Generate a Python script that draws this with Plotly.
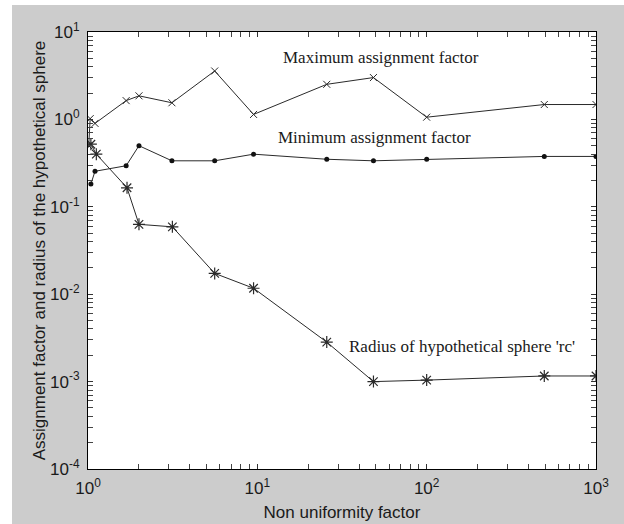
import plotly.graph_objects as go

# ---- data ----
x_max = [1.01, 1.03, 1.1, 1.68, 2.0, 3.13, 5.6, 9.5, 25.7, 48.5, 100, 495, 1000]
y_max = [0.5, 1.02, 0.9, 1.64, 1.86, 1.55, 3.58, 1.14, 2.52, 3.01, 1.06, 1.48, 1.48]

x_min = [1.04, 1.1, 1.68, 2.0, 3.13, 5.6, 9.5, 25.7, 48.5, 100, 495, 1000]
y_min = [0.182, 0.255, 0.295, 0.5, 0.336, 0.336, 0.40, 0.35, 0.336, 0.35, 0.377, 0.377]

x_rc = [1.04, 1.12, 1.7, 2.0, 3.15, 5.6, 9.5, 25.7, 48.5, 100, 495, 1000]
y_rc = [0.52, 0.40, 0.165, 0.063, 0.059, 0.0173, 0.0117, 0.00283, 0.001, 0.00104, 0.00116, 0.00116]

x_tickvals = [1, 10, 100, 1000]
x_ticktext = ["10<sup>0</sup>", "10<sup>1</sup>", "10<sup>2</sup>", "10<sup>3</sup>"]
y_tickvals = [1e-4, 1e-3, 1e-2, 1e-1, 1, 10]
y_ticktext = ["10<sup>-4</sup>", "10<sup>-3</sup>", "10<sup>-2</sup>", "10<sup>-1</sup>", "10<sup>0</sup>", "10<sup>1</sup>"]

labels = ["Maximum assignment factor", "Minimum assignment factor", "Radius of hypothetical sphere 'rc'"]
label_pos = [(1.731, 0.714), (1.692, -0.209), (2.206, -2.601)]  # log10 coordinates

x_title = "Non uniformity factor"
y_title = "Assignment factor and radius of the hypothetical sphere"

# ---- figure ----
LINE = "#2a2a2a"
fig = go.Figure()
fig.add_trace(go.Scatter(x=x_max, y=y_max, mode="lines+markers",
                         line=dict(color=LINE, width=1),
                         marker=dict(symbol="x-thin-open", size=7, line=dict(color=LINE, width=1))))
fig.add_trace(go.Scatter(x=x_min, y=y_min, mode="lines+markers",
                         line=dict(color=LINE, width=1),
                         marker=dict(symbol="circle", size=5, color="#111")))
fig.add_trace(go.Scatter(x=x_rc, y=y_rc, mode="lines+markers",
                         line=dict(color=LINE, width=1),
                         marker=dict(symbol="asterisk-open", size=10, line=dict(color="#111", width=1.2))))

for txt, (ax, ay) in zip(labels, label_pos):
    fig.add_annotation(x=ax, y=ay, xref="x", yref="y", text=txt, showarrow=False,
                       font=dict(family="Liberation Serif", size=17, color="#1a1a1a"))

minor_x = [m * 10 ** d for d in range(0, 3) for m in range(2, 10)]
minor_y = [m * 10.0 ** d for d in range(-4, 1) for m in range(2, 10)]

SANS = "Liberation Sans Narrow, Arial Narrow, Liberation Sans"
tickfont = dict(family=SANS, size=17, color="#1a1a1a")
axis_common = dict(type="log", showgrid=False, zeroline=False, showline=True, linecolor="black",
                   linewidth=1, mirror="allticks", ticks="inside", ticklen=5, tickcolor="#333",
                   tickfont=tickfont, automargin=False)

fig.update_xaxes(range=[0, 3], tickmode="array", tickvals=x_tickvals, ticktext=x_ticktext,
                 ticklabelstandoff=4,
                 minor=dict(tickmode="array", tickvals=minor_x, ticks="inside", ticklen=5, tickcolor="#444"),
                 title=dict(text=x_title, standoff=8,
                            font=dict(family=SANS, size=17, color="#1a1a1a")),
                 **axis_common)
fig.update_yaxes(range=[-4, 1], tickmode="array", tickvals=y_tickvals, ticktext=y_ticktext,
                 ticklabelstandoff=4,
                 minor=dict(tickmode="array", tickvals=minor_y, ticks="inside", ticklen=5, tickcolor="#444"),
                 title=dict(text=y_title, standoff=0,
                            font=dict(family="Liberation Sans", size=17, color="#1a1a1a")),
                 **axis_common)

fig.update_layout(
    width=624, height=524, showlegend=False,
    margin=dict(l=88, r=28, t=32, b=55),
    paper_bgcolor="#cccccc", plot_bgcolor="white",
    shapes=[
        dict(type="rect", xref="paper", yref="paper", x0=-0.2, x1=(12 - 88) / 508, y0=-0.2, y1=1.2,
             fillcolor="white", line=dict(width=0), layer="below"),
        dict(type="rect", xref="paper", yref="paper", x0=-0.2, x1=1.2, y0=(469 - 5) / 437, y1=1.2,
             fillcolor="white", line=dict(width=0), layer="below"),
    ],
)

fig.write_html("out.html")
